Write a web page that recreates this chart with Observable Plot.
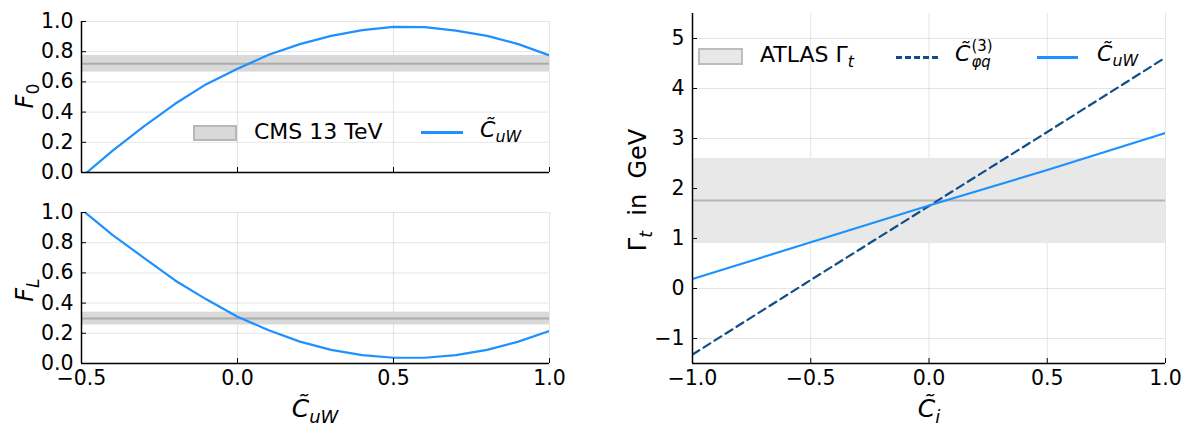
<!DOCTYPE html>
<html><head><meta charset="utf-8">
<script src="https://cdn.jsdelivr.net/npm/d3@7"></script>
<script src="https://cdn.jsdelivr.net/npm/@observablehq/plot@0.6"></script>
<style>
body{margin:0;background:#fff;font-family:"DejaVu Sans",sans-serif;}
#fig{position:relative;width:1184px;height:425px;overflow:hidden;background:#fff;}
.panel{position:absolute;}
.lbl{position:absolute;white-space:nowrap;color:#000;line-height:1;}
.m{font-style:italic;}
.sb{font-size:0.72em;position:relative;top:0.32em;}
.stack{display:inline-flex;flex-direction:column;vertical-align:middle;font-size:0.68em;line-height:1.05;margin-left:1px;}
.box{position:absolute;}
.ln{position:absolute;height:0;}
</style></head><body><div id="fig"></div>
<script>
// ---------------- data ----------------
const cuwGrid = [-0.5,-0.4,-0.3,-0.2,-0.1,0.0,0.1,0.2,0.3,0.4,0.5,0.6,0.7,0.8,0.9,1.0];
const F0vals  = [-0.03,0.145,0.305,0.455,0.585,0.687,0.78,0.85,0.905,0.943,0.965,0.963,0.94,0.905,0.85,0.775];
const FLvals  = [1.02,0.85,0.70,0.55,0.425,0.31,0.22,0.145,0.09,0.055,0.038,0.038,0.055,0.09,0.145,0.215];
const cmsF0Band = [0.665, 0.72, 0.775];   // low, central, high
const cmsFLBand = [0.255, 0.298, 0.34];
const ciGrid = [-1.0,-0.5,0.0,0.5,1.0];
const gammaCphiq = [-1.32,0.17,1.65,3.13,4.62];
const gammaCuW   = [0.19,0.925,1.66,2.37,3.11];
const atlasBand  = [0.9, 1.76, 2.6];
const leftXTicks  = [-0.5,0.0,0.5,1.0];
const leftYTicks  = [0,0.2,0.4,0.6,0.8,1.0];
const rightXTicks = [-1.0,-0.5,0.0,0.5,1.0];
const rightYTicks = [-1,0,1,2,3,4,5];
const blue = "#1E90FF", darkBlue = "#104E8B";

const fmt1 = d3.format(".1f"), fmt0 = d3.format("d");

function panel(o){
  const [x0,x1] = o.xDomain, [y0,y1] = o.yDomain;
  const marks = [
    Plot.gridX(o.xTicks, {stroke:"#000", strokeOpacity:0.1, strokeWidth:1}),
    Plot.gridY(o.yTicks, {stroke:"#000", strokeOpacity:0.1, strokeWidth:1}),
    Plot.rect([o.band], {x1:()=>x0, x2:()=>x1, y1:d=>d[0], y2:d=>d[2], fill:o.bandFill}),
    Plot.ruleY([o.band[1]], {stroke:o.bandLine, strokeWidth:2})
  ];
  for (const s of o.series){
    const data = o.xs.map((x,i)=>({x, y:s.ys[i]}));
    marks.push(Plot.line(data, {x:"x", y:"y", stroke:s.color, strokeWidth:2.2, strokeDasharray:s.dash, clip:true}));
  }
  marks.push(
    Plot.axisX(o.xTicks, {tickSize:-5, tickPadding:12, fontSize:20.5, tickFormat:o.xFmt, label:null}),
    Plot.axisY(o.yTicks, {tickSize:-5, tickPadding:13, fontSize:20.5, tickFormat:o.yFmt, label:null}),
    Plot.ruleX([x0], {stroke:"#000", strokeWidth:1.5}),
    Plot.ruleY([y0], {stroke:"#000", strokeWidth:1.5})
  );
  const svg = Plot.plot({
    width:o.width, height:o.height,
    marginLeft:o.ml, marginRight:o.mr, marginTop:o.mt, marginBottom:o.mb,
    style:{fontFamily:"DejaVu Sans", fontSize:"20px", color:"#000", background:"transparent", overflow:"visible"},
    x:{domain:o.xDomain}, y:{domain:o.yDomain},
    marks
  });
  svg.classList.add("panel");
  svg.style.left = o.left+"px"; svg.style.top = o.top+"px";
  return svg;
}

const fig = document.getElementById("fig");
fig.appendChild(panel({
  left:0, top:0, width:560, height:185, ml:81, mr:11, mt:21, mb:13,
  xDomain:[-0.5,1], yDomain:[0,1], xTicks:leftXTicks, yTicks:leftYTicks,
  xFmt:()=>"", yFmt:fmt1, xs:cuwGrid,
  series:[{ys:F0vals, color:blue}],
  band:cmsF0Band, bandFill:"#d9d9d9", bandLine:"#ababab"
}));
fig.appendChild(panel({
  left:0, top:190, width:560, height:200, ml:81, mr:11, mt:22, mb:27,
  xDomain:[-0.5,1], yDomain:[0,1], xTicks:leftXTicks, yTicks:leftYTicks,
  xFmt:fmt1, yFmt:fmt1, xs:cuwGrid,
  series:[{ys:FLvals, color:blue}],
  band:cmsFLBand, bandFill:"#d9d9d9", bandLine:"#ababab"
}));
fig.appendChild(panel({
  left:600, top:0, width:584, height:390, ml:92, mr:19, mt:13, mb:27,
  xDomain:[-1,1], yDomain:[-1.5,5.5], xTicks:rightXTicks, yTicks:rightYTicks,
  xFmt:fmt1, yFmt:fmt0, xs:ciGrid,
  series:[{ys:gammaCphiq, color:darkBlue, dash:"8,5"},{ys:gammaCuW, color:blue}],
  band:atlasBand, bandFill:"#e8e8e8", bandLine:"#b5b5b5"
}));

// ---------------- text overlays ----------------
function addHTML(html, left, top, size, css){
  const d = document.createElement("div");
  d.className = "lbl"; d.innerHTML = html;
  d.style.left = left+"px"; d.style.top = top+"px"; d.style.fontSize = size+"px";
  if (css) d.style.cssText += css;
  fig.appendChild(d); return d;
}
const Ct = '<span class="m">C&#x303;</span>';
// axis titles
addHTML('<span class="m">F</span><span class="sb">0</span>', 25, 96, 24, "transform:translate(-50%,-50%) rotate(-90deg);");
addHTML('<span class="m">F</span><span class="sb m">L</span>', 25, 290, 24, "transform:translate(-50%,-50%) rotate(-90deg);");
addHTML('Γ<span class="sb m">t</span>&nbsp; in &nbsp;GeV', 638, 190, 24, "transform:translate(-50%,-50%) rotate(-90deg);");
addHTML(Ct+'<span class="sb m">uW</span>', 315, 408, 25, "transform:translate(-50%,-50%);");
addHTML(Ct+'<span class="sb m">i</span>', 929, 408, 25, "transform:translate(-50%,-50%);");

// legends
function box(l,t,w,h,fill,border){const b=document.createElement("div");b.className="box";
  b.style.cssText=`left:${l}px;top:${t}px;width:${w}px;height:${h}px;background:${fill};border:2px solid ${border};box-sizing:border-box;`;fig.appendChild(b);}
function line(l,y,w,color,style){const b=document.createElement("div");b.className="ln";
  b.style.cssText=`left:${l}px;top:${y-1.5}px;width:${w}px;border-top:3px ${style} ${color};`;fig.appendChild(b);}
box(193,125,44,16,"#d9d9d9","#b8b8b8");
addHTML('CMS 13 TeV', 254, 132, 22, "transform:translateY(-50%);");
line(421,132,42,blue,"solid");
addHTML(Ct+'<span class="sb m">uW</span>', 480, 130, 22, "transform:translateY(-50%);");

box(698,48,45,17,"#e8e8e8","#bdbdbd");
addHTML('ATLAS Γ<span class="sb m">t</span>', 760, 55, 22, "transform:translateY(-50%);");
line(896,57,42,darkBlue,"dashed");
addHTML(Ct+'<span class="stack"><span>(3)</span><span class="m">φq</span></span>', 955, 55, 22, "transform:translateY(-50%);");
line(1037,57,41,blue,"solid");
addHTML(Ct+'<span class="sb m">uW</span>', 1097, 54, 22, "transform:translateY(-50%);");
</script></body></html>
